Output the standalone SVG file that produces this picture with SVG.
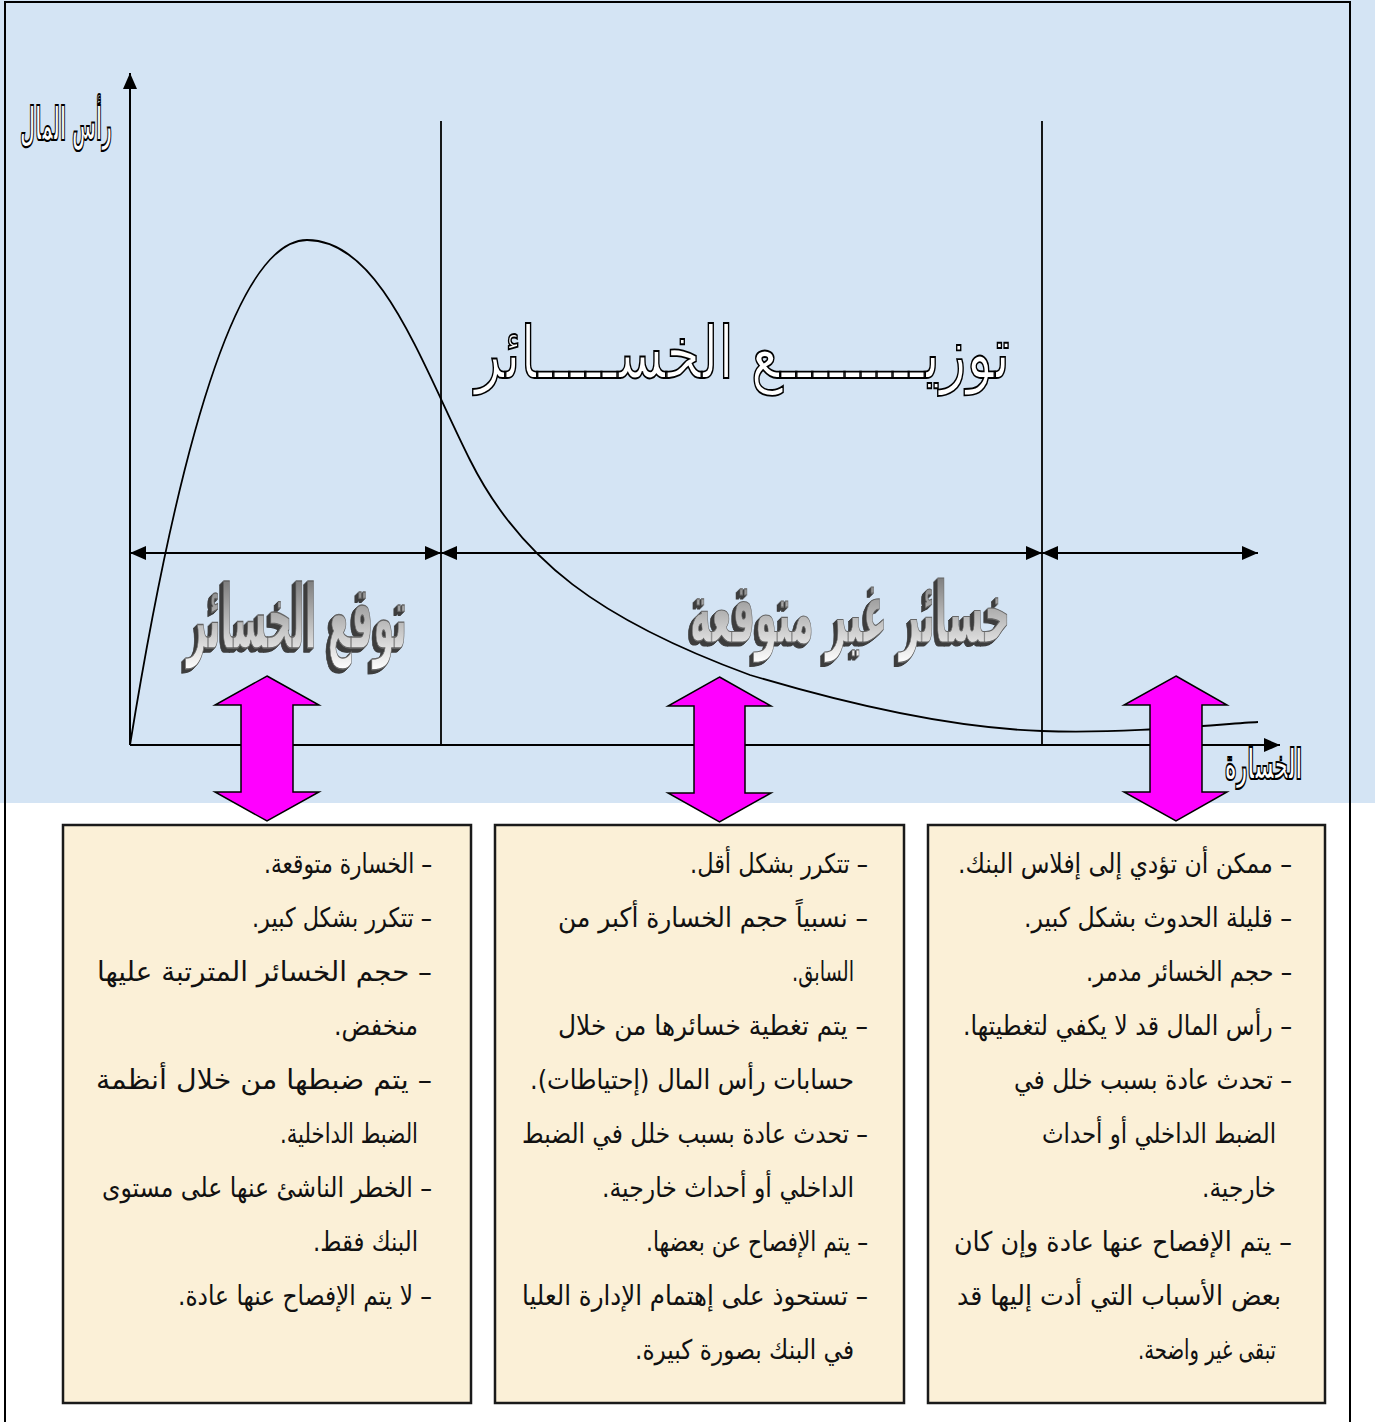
<svg xmlns="http://www.w3.org/2000/svg" width="1375" height="1422" viewBox="0 0 1375 1422">
<defs>
<style>
.bt{font-family:'DejaVu Sans',sans-serif;font-size:27px;fill:#111;direction:rtl;text-anchor:start;}
.ol{font-family:'DejaVu Sans',sans-serif;fill:#fff;stroke:#000;direction:rtl;text-anchor:start;}
.ln{stroke:#000;stroke-width:1.8;fill:none;}
.ax{stroke:#000;stroke-width:2;fill:none;}
.box{fill:#FBF0D7;stroke:#1a1a1a;stroke-width:2.5;}
.mg{fill:#FF00FF;stroke:#000;stroke-width:1.5;}
.w3{font-family:'DejaVu Sans',sans-serif;font-weight:bold;direction:rtl;text-anchor:start;fill:url(#g3d);stroke:#666;stroke-width:0.6;filter:url(#ext);}
</style>
<linearGradient id="g3d" x1="0" y1="0" x2="0" y2="1">
<stop offset="0" stop-color="#6a6a6a"/>
<stop offset="0.5" stop-color="#b4b4b4"/>
<stop offset="1" stop-color="#ffffff"/>
</linearGradient>
<filter id="ext" x="-25%" y="-40%" width="150%" height="180%">
<feOffset in="SourceAlpha" dx="-1" dy="0.5" result="o1"/>
<feOffset in="SourceAlpha" dx="-2" dy="1" result="o2"/>
<feOffset in="SourceAlpha" dx="-3" dy="1.5" result="o3"/>
<feOffset in="SourceAlpha" dx="-4" dy="2" result="o4"/>
<feMerge result="m"><feMergeNode in="o1"/><feMergeNode in="o2"/><feMergeNode in="o3"/><feMergeNode in="o4"/></feMerge>
<feFlood flood-color="#3c3c3c"/>
<feComposite in2="m" operator="in" result="sh"/>
<feMerge><feMergeNode in="sh"/><feMergeNode in="SourceGraphic"/></feMerge>
</filter>
<marker id="ah" viewBox="0 0 16 14" refX="16" refY="7" markerWidth="16" markerHeight="14" markerUnits="userSpaceOnUse" orient="auto-start-reverse"><path d="M0,0 L16,7 L0,14 Z" fill="#000"/></marker>
</defs>

<rect x="0" y="0" width="1375" height="1422" fill="#fff"/>
<rect x="0" y="0" width="1375" height="803" fill="#D4E4F4"/>

<g id="page-frame" class="ax">
<path d="M5,1422 V2 H1350 V1422"/>
</g>

<g id="connectors">
<line class="ax" x1="130" y1="745" x2="130" y2="73" marker-end="url(#ah)"/>
<line class="ax" x1="130" y1="745" x2="1280" y2="745" marker-end="url(#ah)"/>
<line class="ln" x1="441" y1="121" x2="441" y2="745"/>
<line class="ln" x1="1042" y1="121" x2="1042" y2="745"/>
<line class="ln" x1="130" y1="553" x2="441" y2="553" marker-start="url(#ah)" marker-end="url(#ah)"/>
<line class="ln" x1="441" y1="553" x2="1042" y2="553" marker-start="url(#ah)" marker-end="url(#ah)"/>
<line class="ln" x1="1042" y1="553" x2="1258" y2="553" marker-start="url(#ah)" marker-end="url(#ah)"/>
<path class="ln" d="M130,745 C160,560 220,240 307,240 C380,240 420,360 470,460 C520,560 600,620 750,675 C850,705 950,728 1042,731 C1130,734 1220,724 1258,722"/>
<polygon class="mg" points="267,676 319,705 293,705 293,792 319,792 267,821 215,792 241,792 241,705 215,705"/>
<polygon class="mg" points="719.5,677 771,706 745,706 745,793 771,793 719.5,822 668,793 694,793 694,706 668,706"/>
<polygon class="mg" points="1176,676 1227,705 1202,705 1202,792 1227,792 1176,821 1124,792 1150,792 1150,705 1124,705"/>
</g>

<g id="label-capital">
<text class="ol" transform="translate(112,140) scale(1,1.7)" x="0" y="0" font-size="27" font-weight="bold" stroke-width="1.8" vector-effect="non-scaling-stroke" textLength="92" lengthAdjust="spacingAndGlyphs">رأس المال</text>
</g>
<g id="label-loss">
<text class="ol" transform="translate(1302,779) scale(1,1.6)" x="0" y="0" font-size="26" font-weight="bold" stroke-width="1.8" vector-effect="non-scaling-stroke" textLength="77" lengthAdjust="spacingAndGlyphs">الخسارة</text>
</g>
<g id="title">
<text class="ol" x="1010" y="378" font-size="72" stroke-width="1.8" textLength="535" lengthAdjust="spacingAndGlyphs">توزيـــــــــع الخســـــائر</text>
</g>

<g id="label-expected">
<text class="w3" transform="translate(407,648) scale(1,2.2)" x="0" y="0" font-size="40" textLength="220" lengthAdjust="spacingAndGlyphs">توقع الخسائر</text>
</g>
<g id="label-unexpected">
<text class="w3" transform="translate(1010,642) scale(1,1.87)" x="0" y="0" font-size="45" textLength="320" lengthAdjust="spacingAndGlyphs">خسائر غير متوقعة</text>
</g>

<g id="box-expected">
<rect class="box" x="63" y="825" width="408" height="578"/>
<text class="bt" x="432" y="873" textLength="168" lengthAdjust="spacingAndGlyphs">– الخسارة متوقعة.</text>
<text class="bt" x="432" y="927" textLength="180" lengthAdjust="spacingAndGlyphs">– تتكرر بشكل كبير.</text>
<text class="bt" x="432" y="981" textLength="335" lengthAdjust="spacingAndGlyphs">– حجم الخسائر المترتبة عليها</text>
<text class="bt" x="418" y="1035" textLength="84" lengthAdjust="spacingAndGlyphs">منخفض.</text>
<text class="bt" x="432" y="1089" textLength="336" lengthAdjust="spacingAndGlyphs">– يتم ضبطها من خلال أنظمة</text>
<text class="bt" x="418" y="1143" textLength="138" lengthAdjust="spacingAndGlyphs">الضبط الداخلية.</text>
<text class="bt" x="432" y="1197" textLength="330" lengthAdjust="spacingAndGlyphs">– الخطر الناشئ عنها على مستوى</text>
<text class="bt" x="418" y="1251" textLength="105" lengthAdjust="spacingAndGlyphs">البنك فقط.</text>
<text class="bt" x="432" y="1305" textLength="254" lengthAdjust="spacingAndGlyphs">– لا يتم الإفصاح عنها عادة.</text>
</g>

<g id="box-unexpected">
<rect class="box" x="495" y="825" width="409" height="578"/>
<text class="bt" x="868" y="873" textLength="178" lengthAdjust="spacingAndGlyphs">– تتكرر بشكل أقل.</text>
<text class="bt" x="868" y="927" textLength="310" lengthAdjust="spacingAndGlyphs">– نسبياً حجم الخسارة أكبر من</text>
<text class="bt" x="854" y="981" textLength="62" lengthAdjust="spacingAndGlyphs">السابق.</text>
<text class="bt" x="868" y="1035" textLength="310" lengthAdjust="spacingAndGlyphs">– يتم تغطية خسائرها من خلال</text>
<text class="bt" x="854" y="1089" textLength="324" lengthAdjust="spacingAndGlyphs">حسابات رأس المال (إحتياطات).</text>
<text class="bt" x="868" y="1143" textLength="346" lengthAdjust="spacingAndGlyphs">– تحدث عادة بسبب خلل في الضبط</text>
<text class="bt" x="854" y="1197" textLength="252" lengthAdjust="spacingAndGlyphs">الداخلي أو أحداث خارجية.</text>
<text class="bt" x="868" y="1251" textLength="222" lengthAdjust="spacingAndGlyphs">– يتم الإفصاح عن بعضها.</text>
<text class="bt" x="868" y="1305" textLength="346" lengthAdjust="spacingAndGlyphs">– تستحوذ على إهتمام الإدارة العليا</text>
<text class="bt" x="854" y="1359" textLength="219" lengthAdjust="spacingAndGlyphs">في البنك بصورة كبيرة.</text>
</g>

<g id="box-catastrophic">
<rect class="box" x="928" y="825" width="397" height="578"/>
<text class="bt" x="1292" y="873" textLength="334" lengthAdjust="spacingAndGlyphs">– ممكن أن تؤدي إلى إفلاس البنك.</text>
<text class="bt" x="1292" y="927" textLength="268" lengthAdjust="spacingAndGlyphs">– قليلة الحدوث بشكل كبير.</text>
<text class="bt" x="1292" y="981" textLength="206" lengthAdjust="spacingAndGlyphs">– حجم الخسائر مدمر.</text>
<text class="bt" x="1292" y="1035" textLength="329" lengthAdjust="spacingAndGlyphs">– رأس المال قد لا يكفي لتغطيتها.</text>
<text class="bt" x="1292" y="1089" textLength="278" lengthAdjust="spacingAndGlyphs">– تحدث عادة بسبب خلل في</text>
<text class="bt" x="1276" y="1143" textLength="234" lengthAdjust="spacingAndGlyphs">الضبط الداخلي أو أحداث</text>
<text class="bt" x="1276" y="1197" textLength="74" lengthAdjust="spacingAndGlyphs">خارجية.</text>
<text class="bt" x="1292" y="1251" textLength="338" lengthAdjust="spacingAndGlyphs">– يتم الإفصاح عنها عادة وإن كان</text>
<text class="bt" x="1281" y="1305" textLength="324" lengthAdjust="spacingAndGlyphs">بعض الأسباب التي أدت إليها قد</text>
<text class="bt" x="1276" y="1359" textLength="138" lengthAdjust="spacingAndGlyphs">تبقى غير واضحة.</text>
</g>
</svg>
